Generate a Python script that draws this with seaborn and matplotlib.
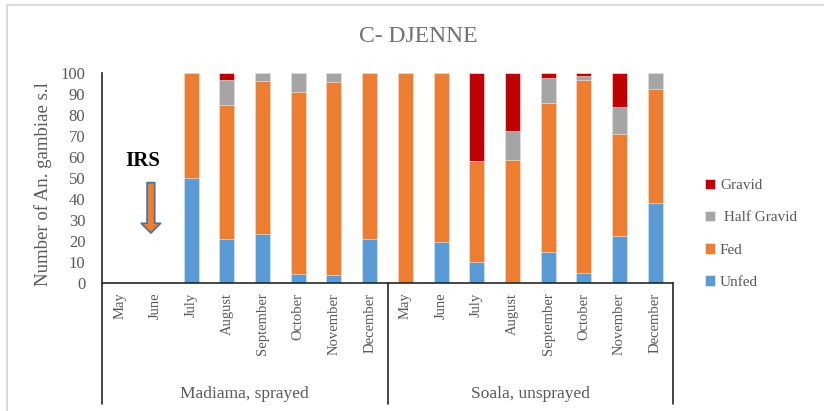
import pandas as pd
import matplotlib.pyplot as plt
import seaborn as sns
import numpy as np

months = ['May', 'June', 'July', 'August', 'September', 'October', 'November', 'December']
sites = ['Madiama, sprayed', 'Soala, unsprayed']

# percentages per month, Madiama then Soala
unfed = [0, 0, 50, 21, 23.2, 4.3, 3.7, 21.1,
         0, 19.7, 10.2, 0.6, 14.7, 4.6, 22.6, 38.2]
fed = [0, 0, 50, 63.8, 73.1, 86.6, 92.1, 78.9,
       100, 80.3, 47.7, 58.0, 71.1, 92.2, 48.3, 54.1]
half_gravid = [0, 0, 0, 11.8, 3.7, 9.1, 4.2, 0,
               0, 0, 0, 13.9, 11.8, 1.9, 12.9, 7.7]
gravid = [0, 0, 0, 3.4, 0, 0, 0, 0,
          0, 0, 42.1, 27.5, 2.4, 1.3, 16.2, 0]

colors = {'Unfed': '#5B9BD5', 'Fed': '#ED7D31', ' Half Gravid': '#A5A5A5', 'Gravid': '#C00000'}

slots = [f'{s}|{m}' for s in sites for m in months]
df = pd.DataFrame({'slot': slots, 'Unfed': unfed, 'Fed': fed,
                   ' Half Gravid': half_gravid, 'Gravid': gravid})
df['c_unfed'] = df['Unfed']
df['c_fed'] = df['c_unfed'] + df['Fed']
df['c_half'] = df['c_fed'] + df[' Half Gravid']
df['c_gravid'] = df['c_half'] + df['Gravid']

sns.set_style('white')
plt.rcParams['font.family'] = ['Liberation Serif', 'DejaVu Serif']
text_col = '#595959'

fig = plt.figure(figsize=(8.24, 4.11), dpi=100)
ax = fig.add_axes([102 / 824, 128 / 411, 571 / 824, 210 / 411])

for col, name in [('c_gravid', 'Gravid'), ('c_half', ' Half Gravid'),
                  ('c_fed', 'Fed'), ('c_unfed', 'Unfed')]:
    sns.barplot(data=df, x='slot', y=col, order=slots, color=colors[name], saturation=1,
                width=0.42, ax=ax, label=name, edgecolor='#f4f4f4', linewidth=0.4)

ax.set_ylim(0, 100)
ax.set_xlim(-0.5, len(slots) - 0.5)
ax.set_yticks(range(0, 101, 10))
ax.tick_params(axis='y', labelsize=12, colors=text_col, length=0, pad=12)
ax.set_xticks(range(len(slots)))
ax.set_xticklabels(months * 2, rotation=90, fontsize=10.5, color=text_col)
ax.tick_params(axis='x', length=0, pad=7)
ax.set_xlabel('')
ax.set_ylabel('Number of An. gambiae s.l', fontsize=13.5, color=text_col)
ax.yaxis.set_label_coords(-0.088, 0.47)
sns.despine(ax=ax, top=True, right=True)
for sp in ['left', 'bottom']:
    ax.spines[sp].set_color('#262626')
    ax.spines[sp].set_linewidth(1.2)

# group separators and labels under the axis
tr = ax.get_xaxis_transform()
for xv in [-0.5, 7.5, 15.5]:
    ax.plot([xv, xv], [0, -0.575], color='#262626', lw=1.2, transform=tr, clip_on=False)
for i, s in enumerate(sites):
    ax.text(3.5 + 8 * i, -0.53, s, transform=tr, ha='center', va='center',
            fontsize=12.5, color=text_col)

# IRS marker
ax.text(0.63, 58, 'IRS', ha='center', va='center', fontsize=15,
        fontweight='bold', color='black')
ax.annotate('', xy=(0.87, 23.8), xytext=(0.87, 47.8),
            arrowprops=dict(arrowstyle='simple,head_width=1.4,head_length=0.7,tail_width=0.55',
                            fc='#ED7D31', ec='#41719C', lw=1.2, mutation_scale=10,
                            shrinkA=0, shrinkB=0))

fig.text(418 / 824, 1 - 37 / 411, 'C- DJENNE', ha='center', va='center',
         fontsize=17, color='#707070')

handles, labels = ax.get_legend_handles_labels()
leg = ax.legend(handles, labels, loc='upper left', bbox_to_anchor=(691 / 824, 1 - 165 / 411),
                bbox_transform=fig.transFigure, frameon=False, fontsize=11,
                handlelength=0.7, handleheight=0.7, handletextpad=0.3, labelspacing=1.2)
for t in leg.get_texts():
    t.set_color(text_col)

# outer chart border (partly visible)
fig.add_artist(plt.Line2D([7 / 824, 7 / 824], [0, 1 - 5 / 411], color='#D9D9D9', lw=1.5))
fig.add_artist(plt.Line2D([7 / 824, 1], [1 - 5 / 411, 1 - 5 / 411], color='#D9D9D9', lw=1.5))

fig.savefig('out.png', dpi=100)
